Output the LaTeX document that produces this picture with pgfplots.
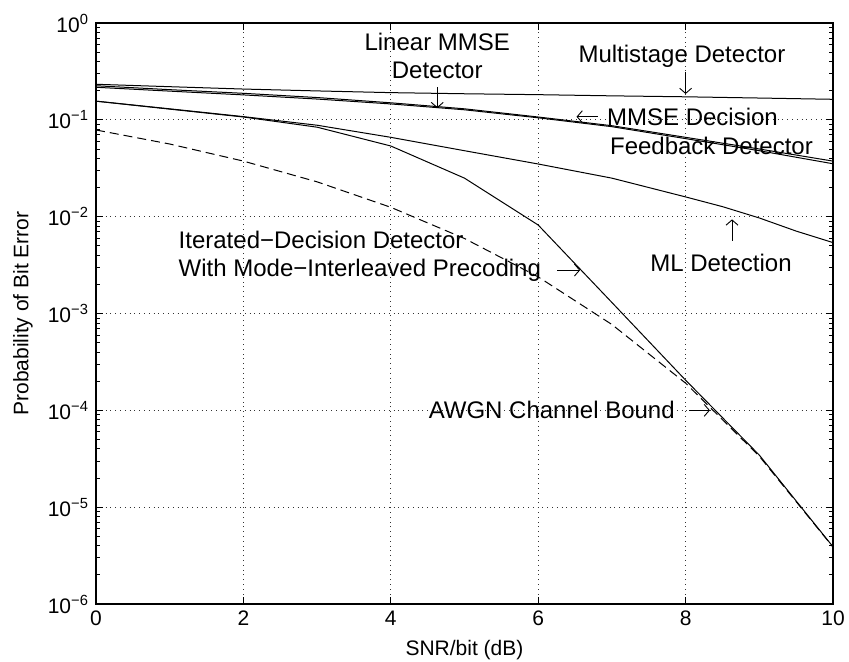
\documentclass[border=0pt]{standalone}
\usepackage{pgfplots}
\pgfplotsset{compat=1.18}
\usetikzlibrary{arrows.meta}
\usepackage{fontspec}
\setmainfont{Liberation Sans}
\begin{document}
\begin{tikzpicture}
\useasboundingbox (-48pt,-28.5pt) rectangle (376.5pt,302pt);
\begin{axis}[
  scale only axis,
  width=368.5pt, height=290.5pt,
  ymode=log,
  xmin=0, xmax=10, ymin=1e-6, ymax=1,
  xtick={0,2,4,6,8,10},
  ytick={1e-6,1e-5,1e-4,1e-3,1e-2,1e-1,1},
  yticklabels={10\textsuperscript{−6},10\textsuperscript{−5},10\textsuperscript{−4},10\textsuperscript{−3},10\textsuperscript{−2},10\textsuperscript{−1},10\textsuperscript{0}},
  /pgf/number format/assume math mode=true,
  tick align=inside,
  tick pos=both,
  major tick length=3.6pt,
  minor tick length=2pt,
  grid=major,
  major grid style={dotted, black!80, line width=0.4pt},
  axis line style={line width=0.6pt},
  every tick/.style={black, line width=0.4pt},
  tick label style={font=\fontsize{10.5}{12}\selectfont},
  label style={font=\fontsize{10.5}{12}\selectfont},
  xlabel={SNR/bit (dB)},
  ylabel={Probability of Bit Error},
  xlabel style={at={(axis description cs:0.5,-0.079)},anchor=center},
  ylabel style={at={(axis description cs:-0.099,0.5)},anchor=center},
]
% Multistage detector
\addplot[black, no marks, line width=0.5pt] coordinates {(0,0.233) (1,0.220) (2,0.208) (3,0.199) (4,0.191) (5,0.186) (6,0.182) (7,0.177) (8,0.173) (9,0.168) (10,0.163)};
% Linear MMSE
\addplot[black, no marks, line width=0.5pt] coordinates {(0,0.225) (1,0.205) (2,0.188) (3,0.170) (4,0.150) (5,0.130) (6,0.107) (7,0.087) (8,0.066) (9,0.050) (10,0.0375)};
% MMSE DFE
\addplot[black, no marks, line width=0.5pt] coordinates {(0,0.217) (1,0.198) (2,0.181) (3,0.164) (4,0.146) (5,0.127) (6,0.105) (7,0.085) (8,0.064) (9,0.048) (10,0.0352)};
% ML detection
\addplot[black, no marks, line width=0.5pt] coordinates {(0,0.156) (1,0.130) (2,0.108) (3,0.088) (4,0.066) (5,0.048) (6,0.035) (7,0.025) (8,0.0160) (8.5,0.0127) (9,0.0097) (9.5,0.0071) (10,0.0054)};
% Iterated decision with mode-interleaved precoding
\addplot[black, no marks, line width=0.5pt] coordinates {(0,0.156) (1,0.129) (2,0.107) (3,0.084) (4,0.0537) (5,0.025) (6,0.0082) (7,0.0013) (8,0.000205) (9,0.0000345) (10,0.0000039)};
% AWGN channel bound
\addplot[black, no marks, line width=0.5pt, dash pattern=on 4.5pt off 2.5pt] coordinates {(0,0.0786) (1,0.0563) (2,0.0375) (3,0.0229) (4,0.0125) (5,0.00595) (6,0.00239) (7,0.00077) (8,0.000191) (9,0.0000336) (10,0.00000387)};

\begin{scope}[every node/.style={font=\fontsize{12}{14}\selectfont, inner sep=0pt}]
\node[anchor=center] at (axis cs:4.63,0.641) {Linear MMSE};
\node[anchor=center] at (axis cs:4.63,0.327) {Detector};
\node[anchor=center] at (axis cs:7.95,0.456) {Multistage Detector};
\node[anchor=west] at (axis cs:6.93,0.1077) {MMSE Decision};
\node[anchor=west] at (axis cs:6.97,0.054) {Feedback Detector};
\node[anchor=center] at (axis cs:8.48,0.00334) {ML Detection};
\node[anchor=west] at (axis cs:1.117,0.00573) {Iterated−Decision Detector};
\node[anchor=west] at (axis cs:1.117,0.00281) {With Mode−Interleaved Precoding};
\node[anchor=west] at (axis cs:4.51,0.0001) {AWGN Channel Bound};
\end{scope}
\begin{scope}[line width=0.45pt, -{Straight Barb[length=2.6pt,width=6pt]}]
\draw (axis cs:4.63,0.217) -- (axis cs:4.63,0.132);
\draw (axis cs:8.0,0.314) -- (axis cs:8.0,0.185);
\draw (axis cs:8.63,0.00564) -- (axis cs:8.63,0.00938);
\draw (axis cs:6.81,0.1077) -- (axis cs:6.52,0.1077);
\draw (axis cs:6.26,0.00281) -- (axis cs:6.57,0.00281);
\draw (axis cs:8.05,0.0001) -- (axis cs:8.33,0.0001);
\end{scope}
\end{axis}
\end{tikzpicture}
\end{document}
